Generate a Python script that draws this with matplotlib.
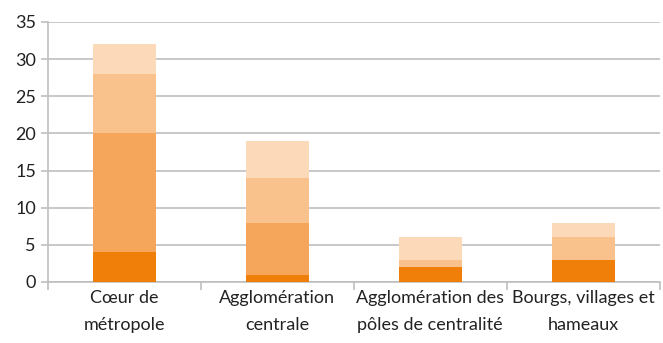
import matplotlib.pyplot as plt
import numpy as np

plt.rcParams['font.family'] = ['Lato', 'DejaVu Sans']

categories = ["Cœur de\nmétropole", "Agglomération\ncentrale",
              "Agglomération des\npôles de centralité", "Bourgs, villages et\nhameaux"]
series1 = [4, 1, 2, 3]
series2 = [16, 7, 0, 0]
series3 = [8, 6, 1, 3]
series4 = [4, 5, 3, 2]
colors = ["#F07F09", "#F5A65B", "#F9C18C", "#FCD9B8"]

fig = plt.figure(figsize=(6.63, 3.43), dpi=100)
ax = fig.add_axes([0.072, 0.178, 0.923, 0.758])

x = np.arange(len(categories))
bottom = np.zeros(len(categories))
for vals, c in zip([series1, series2, series3, series4], colors):
    ax.bar(x, vals, width=0.41, bottom=bottom, color=c, zorder=3)
    bottom += np.array(vals)

ax.set_ylim(0, 35)
ax.set_yticks(range(0, 36, 5))
ax.set_xlim(-0.5, 3.5)
ax.grid(axis='y', color='#BFBFBF', linewidth=1.2, zorder=0)
ax.set_axisbelow(True)

for s in ['top', 'right']:
    ax.spines[s].set_visible(False)
ax.spines['left'].set_color('#BFBFBF')
ax.spines['bottom'].set_color('#BFBFBF')
ax.spines['left'].set_linewidth(1.2)
ax.spines['bottom'].set_linewidth(1.2)

ax.tick_params(axis='y', colors='#BFBFBF', labelcolor='#222222', labelsize=13, length=5, width=1.2)
ax.set_xticks(x)
ax.set_xticklabels(categories, fontsize=13, color='#222222', linespacing=1.8)
ax.tick_params(axis='x', length=0, pad=6)
ax.set_xticks(np.arange(-0.5, 4, 1), minor=True)
ax.tick_params(axis='x', which='minor', length=6, width=1.2, colors='#BFBFBF')

fig.savefig("out.png", dpi=100)
